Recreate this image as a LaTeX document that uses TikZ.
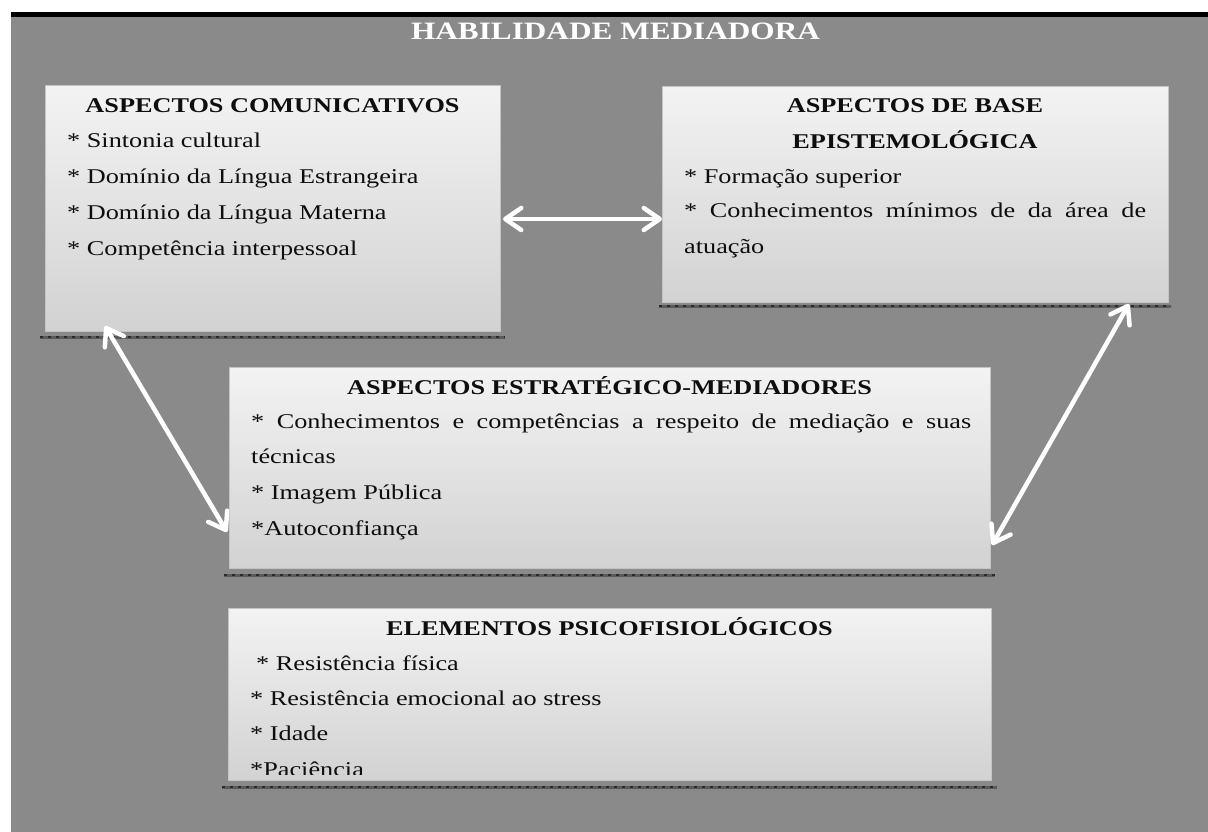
\documentclass[tikz,border=0pt]{standalone}
\usepackage{fontspec}
\setmainfont{Liberation Serif}[FakeStretch=1.25]
\usetikzlibrary{arrows.meta,calc}
\definecolor{bggray}{HTML}{8A8A8A}
\definecolor{boxtop}{HTML}{F3F3F3}
\definecolor{boxbot}{HTML}{D2D2D2}
\definecolor{boxedge}{HTML}{C4C4C4}
\definecolor{shadowline}{HTML}{5A5A5A}
\definecolor{shadowdash}{HTML}{2A2A2A}
\definecolor{txt}{HTML}{0E0E0E}
\begin{document}
\begin{tikzpicture}[x=1pt,y=-1pt,
  panel/.style={draw=boxedge, line width=1pt, top color=boxtop, bottom color=boxbot,
    anchor=north west, inner sep=0pt, outer sep=0pt},
  ttl/.style={font=\fontsize{21}{25}\selectfont\bfseries, text=txt, anchor=base, inner sep=0pt},
  item/.style={font=\fontsize{21}{25}\selectfont, text=txt, anchor=base west, inner sep=0pt},
  shad/.style={draw=shadowline, line width=3pt},
  shaddash/.style={draw=shadowdash, line width=2pt, dash pattern=on 3pt off 5pt},
  biarrow/.style={draw=white, line width=4.5pt, line cap=round,
    {Straight Barb[round,length=16pt,width=22pt]}-{Straight Barb[round,length=16pt,width=22pt]}},
]
\useasboundingbox (0,0) rectangle (1208,832);
\fill[white] (0,0) rectangle (1208,832);
\fill[bggray] (11,17) rectangle (1208,832);
\fill[black] (11,12) rectangle (1208,17);

\node[font=\fontsize{25}{29}\selectfont\bfseries, text=white, anchor=base, inner sep=0pt]
  (title) at (615.5,40) {HABILIDADE MEDIADORA};

% panels
\node[panel, minimum width=455pt, minimum height=245pt] (b1) at (45,86) {};
\node[panel, minimum width=506pt, minimum height=215pt] (b2) at (662,87) {};
\node[panel, minimum width=761pt, minimum height=201pt] (b3) at (229,367) {};
\node[panel, minimum width=763pt, minimum height=172pt] (b4) at (228,608) {};

% shadow lines
\foreach \b/\dx/\dy in {b1/5/6, b2/3/4, b3/5/7, b4/6/7}{
  \draw[shad] ([xshift=-\dx pt,yshift=-\dy pt]\b.south west) -- ([xshift=\dx pt,yshift=-\dy pt]\b.south east);
  \draw[shaddash] ([xshift=-\dx pt,yshift=-\dy pt]\b.south west) -- ([xshift=\dx pt,yshift=-\dy pt]\b.south east);
}

% box 1
\node[ttl] (b1t) at (272.5,113) {ASPECTOS COMUNICATIVOS};
\node[item] (b1i1) at (67,148) {* Sintonia cultural};
\node[item] (b1i2) at (67,184) {* Domínio da Língua Estrangeira};
\node[item] (b1i3) at (67,219) {* Domínio da Língua Materna};
\node[item] (b1i4) at (67,255) {* Competência interpessoal};

% box 2
\node[ttl] (b2t1) at (915,113) {ASPECTOS DE BASE};
\node[ttl] (b2t2) at (915,149) {EPISTEMOLÓGICA};
\node[item] (b2i1) at (684,184) {* Formação superior};
\node[item] (b2i2) at (684,218) {\makebox[462pt][s]{* Conhecimentos mínimos de da área de}};
\node[item] (b2i3) at (684,253) {atuação};

% box 3
\node[ttl] (b3t) at (609.5,394) {ASPECTOS ESTRATÉGICO-MEDIADORES};
\node[item] (b3i1) at (251,428) {\makebox[720pt][s]{* Conhecimentos e competências a respeito de mediação e suas}};
\node[item] (b3i2) at (251,463) {técnicas};
\node[item] (b3i3) at (251,499) {* Imagem Pública};
\node[item] (b3i4) at (251,535) {*Autoconfiança};

% box 4
\node[ttl] (b4t) at (609.5,635) {ELEMENTOS PSICOFISIOLÓGICOS};
\node[item] (b4i1) at (256,670) {* Resistência física};
\node[item] (b4i2) at (250,705) {* Resistência emocional ao stress};
\node[item] (b4i3) at (250,740) {* Idade};
\begin{scope}
  \clip (228,608) rectangle (991,774);
  \node[item] (b4i4) at (250,776) {*Paciência};
\end{scope}

% arrows
\draw[biarrow] ([xshift=3pt,yshift=-10.5pt]b1.east) -- ([yshift=-24.5pt]b2.west);
\draw[biarrow] ([xshift=60pt,yshift=5pt]b1.south west) -- ([xshift=-2pt,yshift=36pt]b3.south west);
\draw[biarrow] ([xshift=-39pt,yshift=-2pt]b2.south east) -- ([xshift=2pt,yshift=23pt]b3.south east);
\end{tikzpicture}
\end{document}
